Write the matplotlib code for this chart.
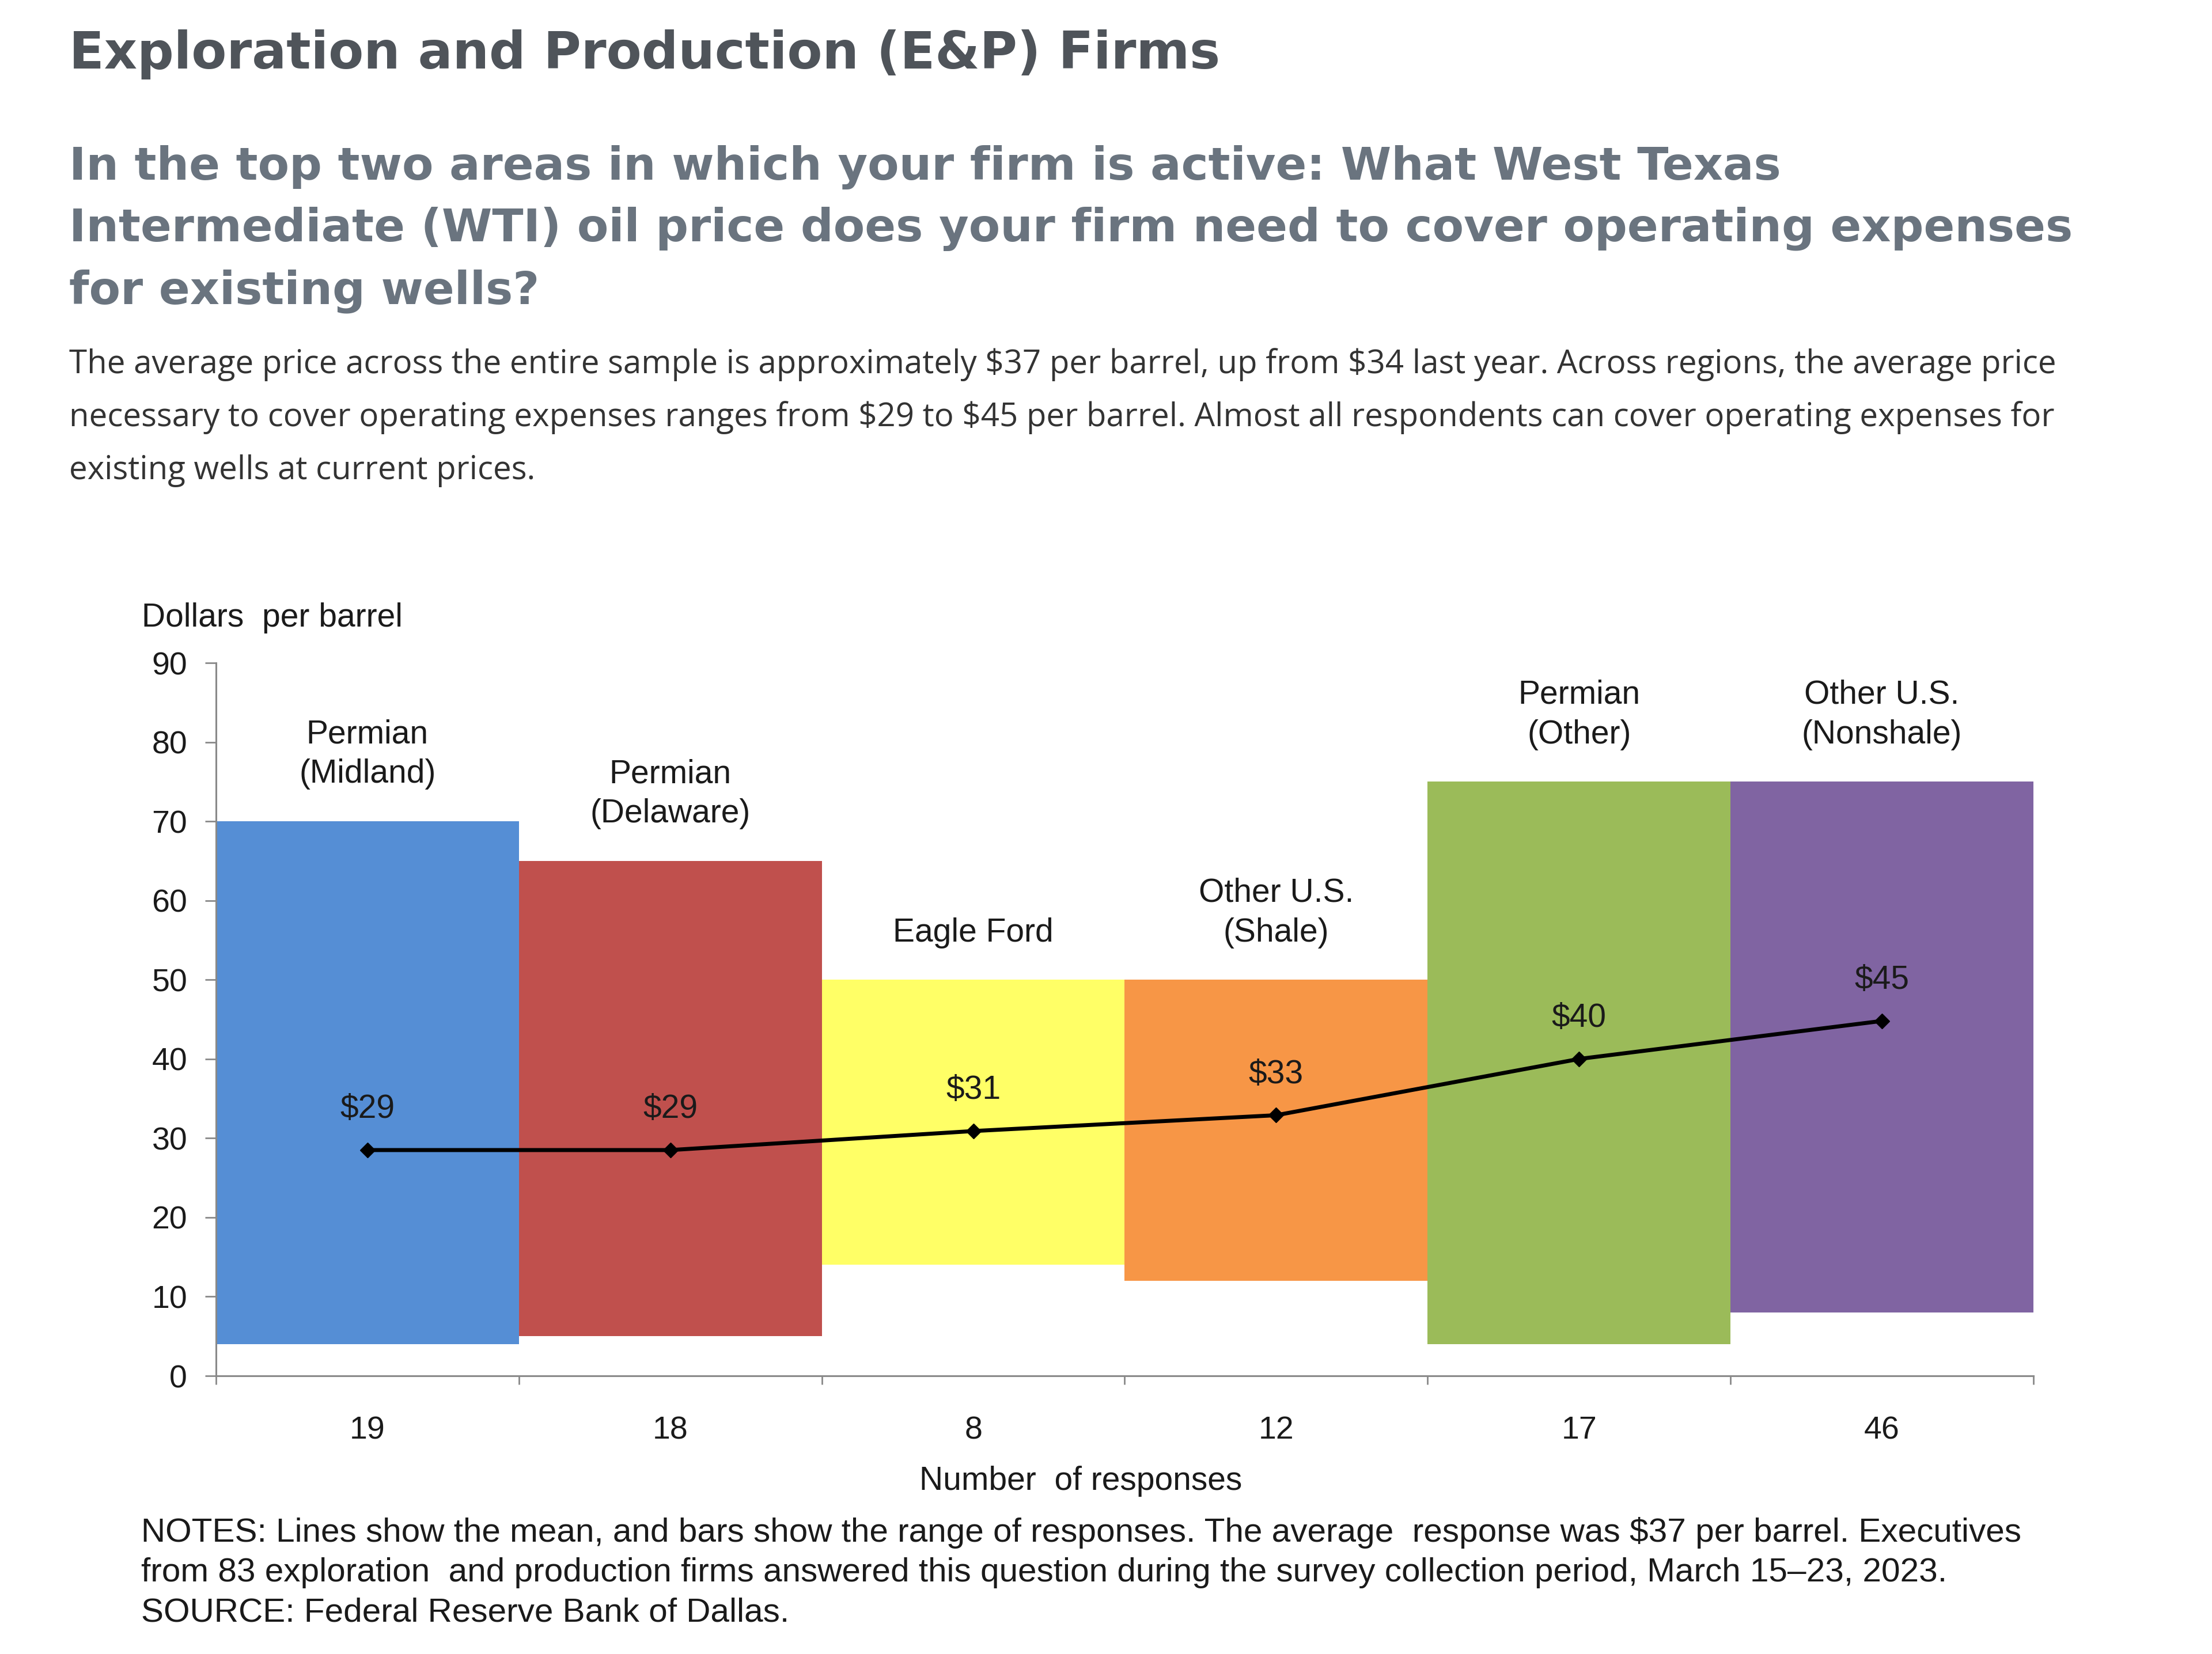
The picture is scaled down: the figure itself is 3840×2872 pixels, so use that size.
import numpy as np
import matplotlib.pyplot as plt

# survey data
regions = ['Permian\n(Midland)', 'Permian\n(Delaware)', 'Eagle Ford',
           'Other U.S.\n(Shale)', 'Permian\n(Other)', 'Other U.S.\n(Nonshale)']
responses = [19, 18, 8, 12, 17, 46]
low = [4, 5, 14, 12, 4, 8]
high = [70, 65, 50, 50, 75, 75]
mean = [28.5, 28.5, 30.9, 32.9, 40.0, 44.8]
mean_labels = ['$29', '$29', '$31', '$33', '$40', '$45']
colors = ['#558ED5', '#C0504D', '#FFFF66', '#F79646', '#9BBB59', '#8064A2']

W, H = 3840, 2872
fig = plt.figure(figsize=(W / 100, H / 100), dpi=100)

def ftext(x, y, s, **kw):
    # place text by pixel position of the full image (y from top)
    fig.text(x / W, 1 - y / H, s, **kw)

# header
ftext(120, 119, 'Exploration and Production (E&P) Firms', family='DejaVu Sans',
      weight='bold', fontsize=64, color='#4f545a', va='baseline')
sub = ['In the top two areas in which your firm is active: What West Texas',
       'Intermediate (WTI) oil price does your firm need to cover operating expenses',
       'for existing wells?']
for i, s in enumerate(sub):
    ftext(120, 312 + i * 107.5, s, family='DejaVu Sans', weight='bold',
          fontsize=57.2, color='#6a747f', va='baseline')
body = [r'The average price across the entire sample is approximately \$37 per barrel, up from \$34 last year. Across regions, the average price',
        r'necessary to cover operating expenses ranges from \$29 to \$45 per barrel. Almost all respondents can cover operating expenses for',
        'existing wells at current prices.']
for i, s in enumerate(body):
    ftext(120, 648 + i * 92, s, family='Open Sans', fontsize=40.6,
          color='#333333', va='baseline')

# chart
ax = fig.add_axes([375 / W, 1 - 2389 / H, (3530 - 375) / W, (2389 - 1151) / H])
x = np.arange(len(regions))
ax.bar(x, np.array(high) - np.array(low), bottom=low, width=1.0,
       color=colors, linewidth=0, zorder=1)
ax.plot(x, mean, color='black', lw=5, marker='D', ms=13, zorder=3)

for i in range(len(regions)):
    ax.annotate(regions[i], (x[i], high[i]), xytext=(0, 48),
                textcoords='offset points', ha='center', va='baseline',
                family='Liberation Sans', fontsize=41, color='#1a1a1a',
                linespacing=1.35)
    ax.annotate(mean_labels[i], (x[i], mean[i]), xytext=(0, 51),
                textcoords='offset points', ha='center', va='center',
                family='Liberation Sans', fontsize=41, color='#1a1a1a')

ax.set_xlim(-0.5, len(regions) - 0.5)
ax.set_ylim(0, 90)
ax.set_yticks(np.arange(0, 91, 10))
ax.set_xticks(np.arange(-0.5, len(regions), 1))
ax.set_xticklabels([])
ax.set_xticks(x, minor=True)
ax.set_xticklabels([str(r) for r in responses], minor=True)
ax.tick_params(axis='x', which='major', length=11, width=2, color='#898989',
               direction='out')
ax.tick_params(axis='x', which='minor', length=0, pad=50, labelsize=40,
               labelcolor='#1a1a1a')
ax.tick_params(axis='y', length=14, width=2, color='#898989', pad=22,
               labelsize=40, labelcolor='#1a1a1a')
for lab in ax.get_xticklabels(minor=True) + ax.get_yticklabels():
    lab.set_family('Liberation Sans')
for side in ['top', 'right']:
    ax.spines[side].set_visible(False)
for side in ['left', 'bottom']:
    ax.spines[side].set_color('#898989')
    ax.spines[side].set_linewidth(2.2)

ftext(246, 1088, 'Dollars  per barrel', family='Liberation Sans', fontsize=41,
      color='#1a1a1a', va='baseline')
ftext(1876, 2587, 'Number  of responses', family='Liberation Sans', fontsize=41,
      color='#1a1a1a', va='baseline', ha='center')

notes = [r'NOTES: Lines show the mean, and bars show the range of responses. The average  response was \$37 per barrel. Executives',
         'from 83 exploration  and production firms answered this question during the survey collection period, March 15\u201323, 2023.',
         'SOURCE: Federal Reserve Bank of Dallas.']
for i, s in enumerate(notes):
    ftext(245, 2677 + i * 69, s, family='Liberation Sans', fontsize=42.1,
          color='#1a1a1a', va='baseline')

fig.savefig('out.png', dpi=100, facecolor='white')
